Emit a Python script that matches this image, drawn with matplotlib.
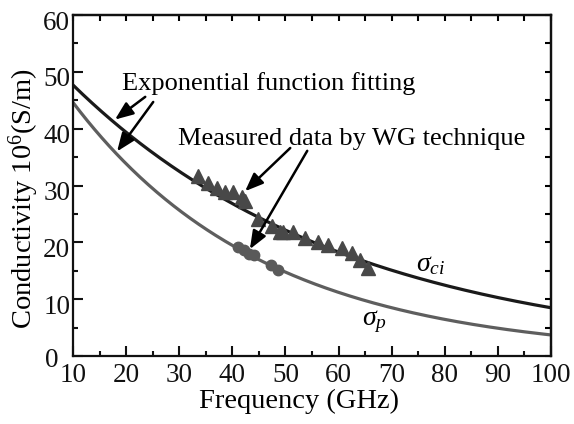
import numpy as np
import matplotlib
matplotlib.use("Agg")
import matplotlib.pyplot as plt
from matplotlib.ticker import MultipleLocator
import matplotlib.transforms as mtrans

plt.rcParams['font.family'] = ['Liberation Serif', 'DejaVu Serif']
plt.rcParams['mathtext.fontset'] = 'custom'
plt.rcParams['mathtext.rm'] = 'Liberation Serif'
plt.rcParams['mathtext.it'] = 'Liberation Serif:italic'

# ---- data ----
# fitted curves, sampled every 10 GHz
grid_freq = [10, 20, 30, 40, 50, 60, 70, 80, 90, 100]
sigma_ci_fit = [47.7, 39.4, 32.5, 26.8, 22.1, 18.3, 15.1, 12.4, 10.3, 8.5]
sigma_p_fit = [44.6, 33.8, 25.6, 19.5, 14.8, 11.2, 8.5, 6.4, 4.9, 3.7]

# measured data (WG technique)
tri_freq = [33.6, 35.5, 37.1, 38.6, 40.2, 41.8, 42.4, 44.9, 47.4, 49.0, 49.6,
            51.5, 53.7, 56.2, 58.1, 60.6, 62.5, 64.0, 65.6]
tri_val = [31.6, 30.4, 29.5, 28.9, 28.8, 28.0, 27.2, 24.1, 22.8, 21.9, 21.9,
           21.9, 20.7, 20.1, 19.5, 19.0, 18.1, 16.9, 15.4]
circ_freq = [41.0, 42.2, 43.2, 44.0, 47.3, 48.6]
circ_val = [19.2, 18.6, 18.0, 17.7, 16.0, 15.2]

x_ticks = [10, 20, 30, 40, 50, 60, 70, 80, 90, 100]
y_ticks = [0, 10, 20, 30, 40, 50, 60]

fig = plt.figure(figsize=(5.74, 4.24), dpi=100)
ax = fig.add_axes([0.1272, 0.1604, 0.8328, 0.8042])

# exponential fits through the read-off samples
f = np.linspace(10, 100, 400)
for vals, col in [(sigma_ci_fit, '#1a1a1a'), (sigma_p_fit, '#5e5e5e')]:
    b, loga = np.polyfit(grid_freq, np.log(vals), 1)
    ax.plot(f, np.exp(loga + b * f), color=col, lw=2.3, zorder=2)

ax.plot(tri_freq, tri_val, linestyle='none', marker='^', ms=9.5,
        color='#484848', mec='#484848', zorder=3)
ax.plot(circ_freq, circ_val, linestyle='none', marker='o', ms=7.5,
        color='#5a5a5a', mec='#5a5a5a', zorder=3)

ax.set_xlim(10, 100)
ax.set_ylim(0, 60)
ax.set_xticks(x_ticks)
ax.set_yticks(y_ticks)
ax.xaxis.set_minor_locator(MultipleLocator(5))
ax.yaxis.set_minor_locator(MultipleLocator(5))
ax.tick_params(which='both', direction='in', width=1.5, labelsize=19.5, colors='#111111')
ax.tick_params(which='major', length=7)
ax.tick_params(which='minor', length=3.5)
ax.tick_params(axis='x', pad=5)
ax.tick_params(axis='y', pad=2)
for sp in ax.spines.values():
    sp.set_linewidth(1.6)
    sp.set_color('#111111')

# shift y tick labels slightly down as in reference; the "0" sits left of the "10"
for lab, val in zip(ax.get_yticklabels(), y_ticks):
    if val == 0:
        dx, dy = -12 / 100, -2 / 100
    else:
        dx, dy = 0, -5 / 100
    off = mtrans.ScaledTranslation(dx, dy, fig.dpi_scale_trans)
    lab.set_transform(lab.get_transform() + off)

# top / right ticks
sx = ax.secondary_xaxis('top')
sx.set_xticks(x_ticks)
sx.xaxis.set_minor_locator(MultipleLocator(5))
sx.tick_params(which='both', direction='in', width=1.5, labeltop=False, length=4)
sy = ax.secondary_yaxis('right')
sy.set_yticks(y_ticks)
sy.yaxis.set_minor_locator(MultipleLocator(5))
sy.tick_params(which='both', direction='in', width=1.5, labelright=False, length=4)
sx.spines['top'].set_linewidth(1.6)
sy.spines['right'].set_linewidth(1.6)

ax.set_xlabel('Frequency (GHz)', fontsize=20.5)
ax.set_ylabel('Conductivity 10$^{6}$(S/m)', fontsize=20.5)
ax.xaxis.set_label_coords(0.473, -0.132)
ax.xaxis.label.set_va('center')
ax.yaxis.set_label_coords(-0.1025, 0.463)
ax.yaxis.label.set_va('center')

ax.text(19.2, 46.8, 'Exponential function fitting', fontsize=19, va='baseline', ha='left')
ax.text(29.8, 37.1, 'Measured data by WG technique', fontsize=19, va='baseline', ha='left')

arrow = dict(arrowstyle='-|>,head_length=0.55,head_width=0.22', color='black', lw=1.8,
             mutation_scale=20, shrinkA=0, shrinkB=0)
ax.annotate('', xy=(17.9, 41.6), xytext=(23.6, 45.6), arrowprops=arrow)
ax.annotate('', xy=(18.3, 36.0), xytext=(25.1, 44.7), arrowprops=arrow)
ax.annotate('', xy=(42.4, 29.0), xytext=(50.9, 36.6), arrowprops=arrow)
ax.annotate('', xy=(43.3, 18.8), xytext=(54.1, 36.1), arrowprops=arrow)

ax.text(74.6, 15.0, r'$\sigma_{ci}$', fontsize=20, va='baseline', ha='left')
ax.text(64.4, 5.4, r'$\sigma_{p}$', fontsize=20, va='baseline', ha='left')

fig.savefig('out.png', dpi=100)
